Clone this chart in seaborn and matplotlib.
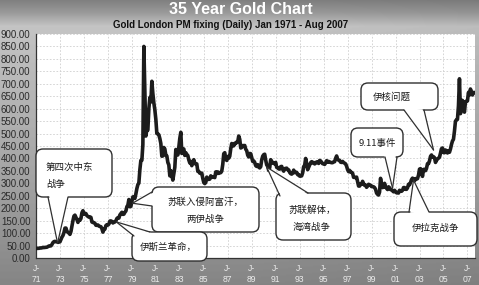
import numpy as np
import pandas as pd
import matplotlib
matplotlib.use("Agg")
import matplotlib.pyplot as plt
import seaborn as sns
from matplotlib.patches import FancyBboxPatch, Polygon
from matplotlib.lines import Line2D
from matplotlib.transforms import Affine2D

# ---------------- data (monthly) ----------------
start_year = 1971
prices_1970s = [
    37.9, 38.7, 38.9, 39.0, 40.5, 40.1, 41.0, 42.7, 42.0, 42.5, 42.9, 43.5,
    45.8, 48.3, 48.3, 49.0, 54.6, 62.1, 65.7, 67.0, 65.5, 64.9, 62.9, 63.9,
    65.1, 74.2, 84.1, 90.5, 102.0, 120.1, 120.2, 106.8, 103.0, 100.1, 94.8, 106.7,
    129.2, 150.2, 168.4, 172.2, 163.3, 154.1, 143.0, 154.6, 151.8, 158.8, 181.7, 190.0,
    176.3, 179.6, 178.2, 170.1, 167.4, 164.2, 165.2, 163.1, 144.6, 142.7, 142.2, 139.3,
    131.6, 131.3, 132.6, 128.2, 126.7, 125.6, 117.7, 104.0, 114.2, 116.3, 130.6, 133.6,
    132.3, 136.4, 148.4, 149.1, 146.7, 140.8, 143.4, 144.8, 149.7, 158.7, 162.1, 160.5,
    173.1, 178.2, 183.7, 175.2, 176.3, 183.7, 188.8, 206.1, 212.4, 235.0, 206.0, 207.8,
    227.3, 245.7, 242.1, 239.2, 257.6, 279.1, 294.7, 301.0, 355.1, 392.0, 392.3, 455.1,
]
prices_1980s = [
    850, 665, 490, 517, 514, 600, 645, 627, 710, 661, 623, 595,
    557, 500, 499, 495, 480, 460, 409, 410, 444, 438, 413, 410,
    384, 374, 330, 351, 333, 313, 340, 364, 436, 423, 414, 445,
    481, 505, 420, 433, 438, 412, 423, 416, 412, 394, 382, 388,
    371, 386, 395, 381, 377, 378, 348, 348, 341, 340, 341, 320,
    303, 299, 304, 325, 316, 316, 317, 330, 324, 325, 325, 323,
    346, 339, 346, 340, 343, 343, 349, 376, 419, 423, 398, 392,
    408, 401, 409, 439, 460, 450, 451, 461, 460, 466, 467, 490,
    477, 442, 444, 452, 451, 452, 437, 431, 413, 406, 420, 419,
    404, 388, 390, 384, 371, 368, 375, 365, 362, 367, 394, 409,
]
prices_1990s = [
    415, 417, 393, 374, 369, 352, 363, 395, 389, 381, 381, 378,
    384, 364, 363, 358, 357, 367, 368, 356, 349, 359, 360, 361,
    355, 354, 344, 339, 337, 341, 353, 343, 345, 344, 335, 335,
    329, 329, 330, 342, 367, 372, 400, 379, 355, 364, 374, 383,
    387, 382, 384, 378, 381, 386, 386, 380, 392, 390, 384, 379,
    379, 376, 382, 391, 385, 388, 386, 384, 383, 383, 386, 387,
    400, 410, 396, 393, 392, 385, 384, 388, 383, 381, 378, 369,
    355, 347, 352, 345, 344, 341, 324, 324, 323, 325, 306, 289,
    289, 298, 296, 308, 299, 292, 293, 284, 289, 296, 294, 292,
    287, 287, 286, 283, 276, 261, 256, 253, 265, 320, 293, 283,
]
prices_2000s = [
    285, 300, 286, 280, 275, 286, 282, 275, 274, 270, 266, 272,
    266, 262, 263, 261, 272, 270, 268, 272, 283, 283, 276, 276,
    282, 296, 294, 303, 315, 321, 313, 310, 319, 317, 319, 333,
    357, 359, 341, 328, 356, 356, 351, 360, 379, 379, 390, 408,
    414, 405, 407, 403, 384, 392, 398, 401, 405, 421, 439, 442,
    424, 423, 434, 429, 422, 431, 425, 438, 456, 470, 477, 510,
    550, 555, 557, 611, 720, 580, 634, 633, 598, 586, 628, 630,
    631, 665, 655, 679, 667, 655, 665, 665,
]

tick_years = list(range(1971, 2008, 2))
tick_labels = [f"J-\n{y % 100:02d}" for y in tick_years]
y_ticks = list(range(0, 901, 50))

title = "35 Year Gold Chart"
subtitle = "Gold London PM fixing (Daily) Jan 1971 - Aug 2007"

event_labels = ["第四次中东\n战争", "苏联入侵阿富汗，\n两伊战争", "伊斯兰革命，",
                "苏联解体，\n海湾战争", "9.11事件", "伊核问题", "伊拉克战争"]
event_years = [1972.8, 1979.05, 1977.7, 1990.25, 2000.75, 2004.17, 2002.5]
event_prices = [60, 220, 145, 365, 281, 434, 313]

# ---------------- layout (pixels, top-left origin) ----------------
W, H = 479, 285
box_px = [(36, 149, 112, 197), (152, 187, 259, 232), (132, 232, 207, 261),
          (276, 193, 351, 240), (351, 128, 403, 157), (361, 83, 438, 110),
          (394, 212, 477, 246)]
text_px = [(46, 167, "left"), (205, 202, "center"), (168, 247, "center"),
           (312, 210, "center"), (377, 143, "center"), (392, 97, "center"),
           (436, 228, "center")]
tail_px = [((48, 197), (68, 197)), ((152, 192), (152, 206)), ((134, 236), (150, 232)),
           ((280, 196), (308, 193)), ((385, 157), (397, 157)), ((404, 110), (424, 110)),
           ((409, 212), (429, 212))]

prices = prices_1970s + prices_1980s + prices_1990s + prices_2000s
df = pd.DataFrame({"year": [start_year + i / 12 for i in range(len(prices))],
                   "price": prices})

sns.set_style("white")
cjk = ["Noto Sans CJK SC", "DejaVu Sans"]
plt.rcParams["font.family"] = ["Liberation Sans", "DejaVu Sans"]

fig = plt.figure(figsize=(W / 100, H / 100), dpi=100)

# gradient background
bg = fig.add_axes([0, 0, 1, 1], zorder=-10)
rows = np.arange(H)
prof = np.interp(rows, [0, 12, 26, 60, 180, 285], [0.50, 0.60, 0.77, 0.74, 0.64, 0.52])
cols = np.arange(W)
hprof = np.interp(cols, [0, 240, 479], [1.0, 1.0, 0.96])
grad = prof[:, None] * hprof[None, :]
bg.imshow(grad, cmap="gray", vmin=0, vmax=1, aspect="auto", extent=[0, 1, 0, 1])
bg.axis("off")

ax = fig.add_axes([36 / W, 1 - 258 / H, 439 / W, 224 / H])
ax.set_facecolor("white")
sns.lineplot(data=df, x="year", y="price", ax=ax, color="#1c1c1c",
             linewidth=2.6, estimator=None, sort=False, zorder=3)
ax.set_xlim(1971, 2007.63)
ax.set_ylim(0, 900)
ax.set_xlabel("")
ax.set_ylabel("")
ax.set_xticks(tick_years)
ax.set_xticklabels(tick_labels, linespacing=1.25)
ax.set_yticks(y_ticks)
ax.set_yticklabels([f"{v:.2f}" for v in y_ticks])
ax.tick_params(axis="y", labelsize=7, colors="#2a2a2a", length=2.5, width=0.8, pad=1.5)
ax.tick_params(axis="x", labelsize=6.2, labelcolor="#ececec", color="#222222",
               length=3, width=0.8, pad=1.5)
ax.grid(True, color="#cfcfcf", linestyle=(0, (2, 2)), linewidth=0.6)
for s in ["top", "right"]:
    ax.spines[s].set_visible(False)
for s in ["left", "bottom"]:
    ax.spines[s].set_color("#333333")
    ax.spines[s].set_linewidth(0.9)

fig.text(0.503, 1 - 9 / H, title, ha="center", va="center", fontsize=11.5,
         fontweight="bold", color="white")
fig.text(0.481, 1 - 24.5 / H, subtitle, ha="center", va="center", fontsize=7,
         fontweight="bold", color="#111111")

# callouts
fig.canvas.draw()
ptrans = Affine2D().scale(1 / 100) + fig.dpi_scale_trans
inv = ptrans.inverted()
for lab, yr, pr, (x0, y0, x1, y1), (tx, ty, ha), (b1, b2) in zip(
        event_labels, event_years, event_prices, box_px, text_px, tail_px):
    box = FancyBboxPatch((x0, H - y1), x1 - x0, y1 - y0,
                         boxstyle="round,pad=0,rounding_size=7",
                         transform=ptrans, facecolor="white", edgecolor="#303030",
                         linewidth=1.0, zorder=5, clip_on=False)
    ax.add_patch(box)
    tip = inv.transform(ax.transData.transform((yr, pr)))
    cx, cy = (x0 + x1) / 2, H - (y0 + y1) / 2
    pts = []
    for bx, by in (b1, b2):
        px, py = bx, H - by
        dx, dy = cx - px, cy - py
        n = np.hypot(dx, dy)
        pts.append((px + 1.6 * dx / n, py + 1.6 * dy / n))
    ax.add_patch(Polygon([pts[0], tuple(tip), pts[1]], closed=True, transform=ptrans,
                         facecolor="white", edgecolor="none", zorder=6, clip_on=False))
    for bx, by in (b1, b2):
        ax.add_line(Line2D([bx, tip[0]], [H - by, tip[1]], transform=ptrans,
                           color="#303030", linewidth=0.9, zorder=7, clip_on=False))
    for k, line in enumerate(lab.split("\n")):
        ax.text(tx, H - (ty + 17.5 * k), line, transform=ptrans, ha=ha, va="center",
                fontsize=6.8, color="#1a1a1a", family=cjk, zorder=8, clip_on=False)

fig.savefig("out.png", dpi=100)
